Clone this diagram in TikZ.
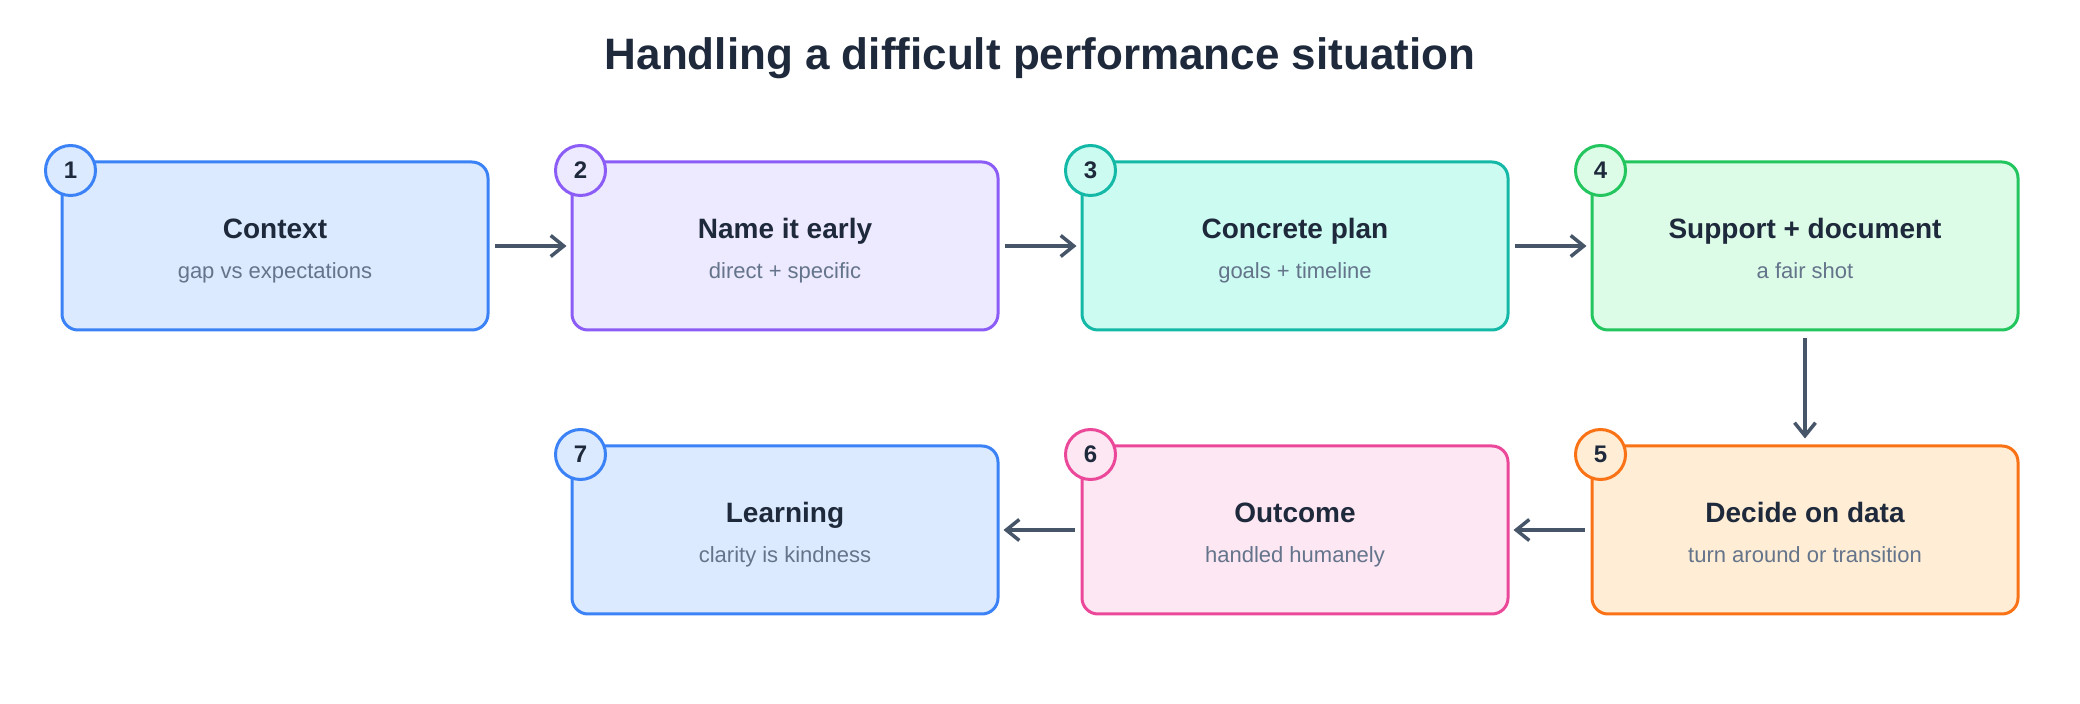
\documentclass[tikz,border=0pt]{standalone}
\usepackage{fontspec}
\setmainfont{Liberation Sans}
\usetikzlibrary{arrows.meta,calc}
\definecolor{hdblue}{HTML}{3B82F6}
\definecolor{hdbluebg}{HTML}{DBEAFE}
\definecolor{hdviolet}{HTML}{8B5CF6}
\definecolor{hdvioletbg}{HTML}{EDE9FE}
\definecolor{hdteal}{HTML}{14B8A6}
\definecolor{hdtealbg}{HTML}{CCFBF1}
\definecolor{hdgreen}{HTML}{22C55E}
\definecolor{hdgreenbg}{HTML}{DCFCE7}
\definecolor{hdorange}{HTML}{F97316}
\definecolor{hdorangebg}{HTML}{FFEDD5}
\definecolor{hdpink}{HTML}{EC4899}
\definecolor{hdpinkbg}{HTML}{FCE7F3}
\definecolor{hdink}{HTML}{1E293B}
\definecolor{hdmute}{HTML}{64748B}
\definecolor{hdarrow}{HTML}{475569}
\newcommand{\hdhead}[1]{\rule{0pt}{30pt}#1}
\newcommand{\subline}[1]{{\fontsize{22}{40}\selectfont\mdseries\color{hdmute}#1\rule[-4pt]{0pt}{4pt}}}
\tikzset{
  bx/.style={rounded corners=16pt, line width=3pt, minimum width=426pt, minimum height=168pt,
    align=center, text=hdink, inner sep=0pt, font=\fontsize{28}{40}\selectfont\bfseries},
  num/.style={circle, line width=3pt, minimum size=50pt, inner sep=0pt, text=hdink,
    font=\fontsize{24}{24}\selectfont\bfseries},
  arr/.style={-{Straight Barb[length=13pt, width=21pt]}, line width=3.5pt, color=hdarrow,
    shorten <=5pt, shorten >=4pt},
}
\begin{document}
\begin{tikzpicture}[x=1pt, y=1pt]
    \useasboundingbox (0,0) rectangle (2080,704);
    \node[anchor=base, font=\fontsize{44}{44}\selectfont\bfseries, text=hdink] (title) at (1040,634) {Handling a difficult performance situation};
    % top row
    \node[bx, draw=hdblue, fill=hdbluebg] (b1) at (275,458) {\hdhead{Context}\\\subline{gap vs expectations}};
    \node[bx, draw=hdviolet, fill=hdvioletbg] (b2) at (785,458) {\hdhead{Name it early}\\\subline{direct + specific}};
    \node[bx, draw=hdteal, fill=hdtealbg] (b3) at (1295,458) {\hdhead{Concrete plan}\\\subline{goals + timeline}};
    \node[bx, draw=hdgreen, fill=hdgreenbg] (b4) at (1805,458) {\hdhead{Support + document}\\\subline{a fair shot}};
    % bottom row
    \node[bx, draw=hdorange, fill=hdorangebg] (b5) at (1805,174) {\hdhead{Decide on data}\\\subline{turn around or transition}};
    \node[bx, draw=hdpink, fill=hdpinkbg] (b6) at (1295,174) {\hdhead{Outcome}\\\subline{handled humanely}};
    \node[bx, draw=hdblue, fill=hdbluebg] (b7) at (785,174) {\hdhead{Learning}\\\subline{clarity is kindness}};
    % step numbers
    \node[num, draw=hdblue, fill=hdbluebg] (n1) at ($(b1.north west)+(10,-10)$) {1};
    \node[num, draw=hdviolet, fill=hdvioletbg] (n2) at ($(b2.north west)+(10,-10)$) {2};
    \node[num, draw=hdteal, fill=hdtealbg] (n3) at ($(b3.north west)+(10,-10)$) {3};
    \node[num, draw=hdgreen, fill=hdgreenbg] (n4) at ($(b4.north west)+(10,-10)$) {4};
    \node[num, draw=hdorange, fill=hdorangebg] (n5) at ($(b5.north west)+(10,-10)$) {5};
    \node[num, draw=hdpink, fill=hdpinkbg] (n6) at ($(b6.north west)+(10,-10)$) {6};
    \node[num, draw=hdblue, fill=hdbluebg] (n7) at ($(b7.north west)+(10,-10)$) {7};
    \draw[arr] (b1) -- (b2); \draw[arr] (b2) -- (b3); \draw[arr] (b3) -- (b4);
    \draw[arr, shorten <=7pt, shorten >=6pt] (b4) -- (b5);
    \draw[arr, shorten <=6pt] (b5) -- (b6); \draw[arr, shorten <=6pt] (b6) -- (b7);
\end{tikzpicture}
\end{document}
